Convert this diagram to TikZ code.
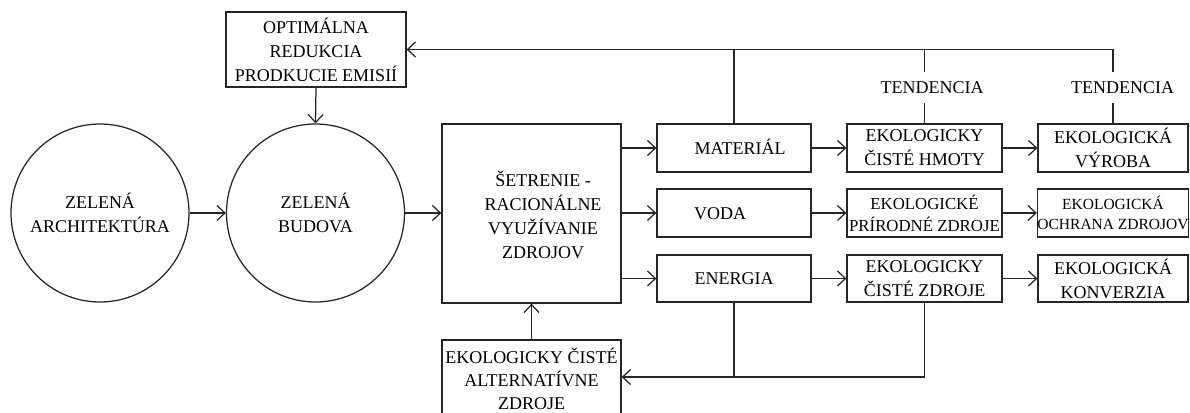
\documentclass[tikz,border=0pt]{standalone}
\usepackage{fontspec}
\setmainfont{Liberation Serif}
\usetikzlibrary{arrows.meta}
\begin{document}
\begin{tikzpicture}[x=1pt,y=-1pt,
  every node/.style={font=\fontsize{18}{24}\selectfont, align=center, inner sep=0pt},
  ln/.style={line width=1.25pt, draw=black!85},
  arr/.style={ln, -{Straight Barb[length=8pt,width=15pt,line width=1.25pt]}},
  box/.style={draw=black!85, line width=1.25pt, rectangle, minimum width=154pt, minimum height=48pt},
  circ/.style={draw=black!85, line width=1.25pt, circle, minimum size=178pt},
  smallA/.style={font=\fontsize{16.8}{22}\selectfont},
  smallB/.style={font=\fontsize{15.5}{20}\selectfont}]
\useasboundingbox (0,0) rectangle (1190,412);
\clip (0,0) rectangle (1190,412);
% circles
\node[circ] (za) at (100,213) {ZELENÁ\\ARCHITEKTÚRA};
\node[circ] (zb) at (315.5,213) {ZELENÁ\\BUDOVA};
% top box
\node[box, minimum width=180pt, minimum height=75pt] (opt) at (316,49.5) {OPTIMÁLNA\\REDUKCIA\\PRODKUCIE EMISIÍ};
% main box
\node[box, minimum width=179pt, minimum height=179pt] (main) at (531.5,213.5) {};
\node (mainT) at (543,215) {ŠETRENIE -\\RACIONÁLNE\\VYUŽÍVANIE\\ZDROJOV};
% resource boxes
\node[box] (mat) at (734,148) {};
\node (matT) at (740,147) {MATERIÁL};
\node[box] (voda) at (734,213) {};
\node (vodaT) at (720,214) {VODA};
\node[box, minimum height=47pt] (ener) at (734,278.5) {ENERGIA};
% middle column
\node[box, minimum width=155pt] (ech) at (924.5,148) {EKOLOGICKY\\ČISTÉ HMOTY};
\node[box, minimum width=155pt, smallA] (epz) at (924.5,213) {EKOLOGICKÉ\\PRÍRODNÉ ZDROJE};
\node[box, minimum width=155pt, minimum height=47pt] (ecz) at (924.5,278.5) {EKOLOGICKY\\ČISTÉ ZDROJE};
% right column
\node[box, minimum width=150pt] (ev) at (1113,148) {EKOLOGICKÁ\\VÝROBA};
\node[box, minimum width=150pt, smallB] (eoz) at (1113,213) {EKOLOGICKÁ\\OCHRANA ZDROJOV};
\node[box, minimum width=150pt, minimum height=47pt] (ek) at (1113,278.5) {EKOLOGICKÁ\\KONVERZIA};
% bottom box
\node[box, minimum width=179pt, minimum height=80pt] (alt) at (531.5,380) {};
\node[font=\fontsize{18}{23}\selectfont] (altT) at (531.5,379) {EKOLOGICKY ČISTÉ\\ALTERNATÍVNE\\ZDROJE};
% tendencia labels
\node[minimum height=31pt] (t1) at (932,87.5) {TENDENCIA};
\node[minimum height=31pt] (t2) at (1122.5,87.5) {TENDENCIA};
% connectors
\draw[arr] (za.east) -- (zb.west);
\draw[arr] (zb.east) -- (main.west |- zb.east);
\draw[arr] (opt.south) -- (zb.north);
\draw[arr] (main.east |- mat.west) -- (mat.west);
\draw[arr] (main.east |- voda.west) -- (voda.west);
\draw[arr] (main.east |- ener.west) -- (ener.west);
\draw[arr] (mat.east) -- (ech.west);
\draw[arr] (voda.east) -- (epz.west);
\draw[arr] (ener.east) -- (ecz.west);
\draw[arr] (ech.east) -- (ev.west);
\draw[arr] (epz.east) -- (eoz.west);
\draw[arr] (ecz.east) -- (ek.west);
\draw[arr] (alt.north) -- (main.south);
% feedback top
\draw[arr] (ev.north |- t2.north) |- (opt.east);
\draw[ln] (ev.north) -- (ev.north |- t2.south);
\draw[ln] (ech.north) -- (ech.north |- t1.south);
\draw[ln] (ech.north |- t1.north) -- (ech.north |- opt.east);
\draw[ln] (mat.north) -- (mat.north |- opt.east);
% feedback bottom
\coordinate (bl) at (734,377);
\draw[ln] (ener.south) -- (bl);
\draw[arr] (ecz.south) |- (alt.east |- bl);
\end{tikzpicture}
\end{document}
